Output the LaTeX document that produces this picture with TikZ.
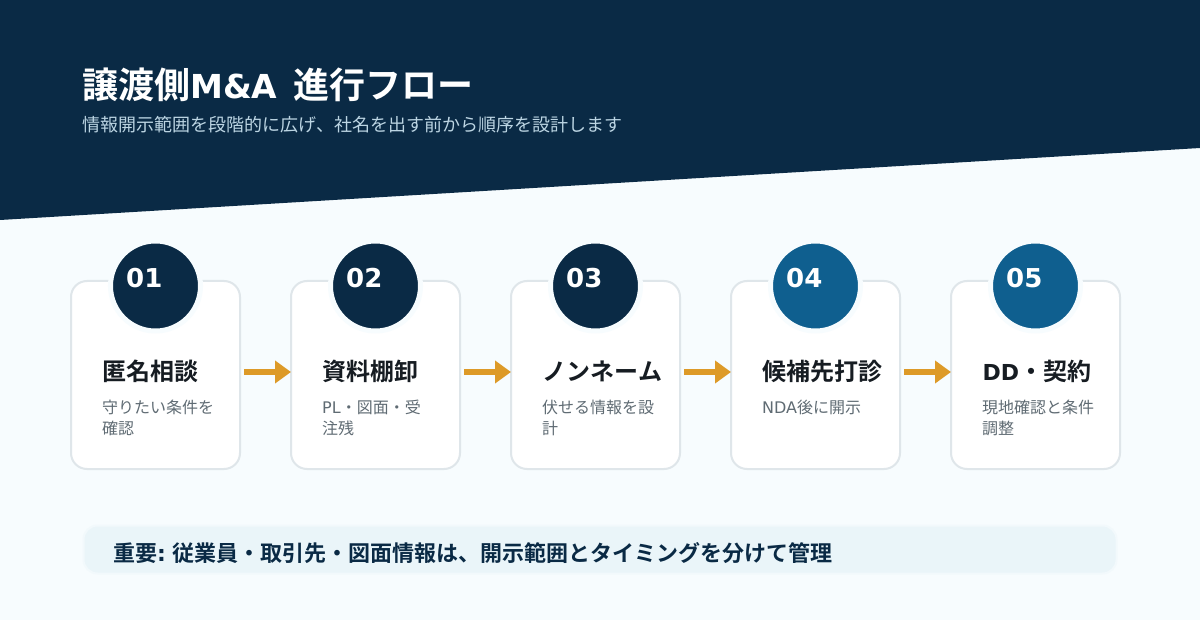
\documentclass[tikz,border=0pt]{standalone}
\usepackage{fontspec}
\usepackage{xcolor}
\setmainfont{DejaVu Sans}
\newfontfamily\cjk[Kerning=Off]{Noto Sans CJK JP}
\newfontfamily\cjkb[Kerning=Off]{Noto Sans CJK JP Bold}
\newfontfamily\latn{DejaVu Sans}
\usetikzlibrary{arrows.meta}
\definecolor{navy}{HTML}{0A2A45}
\definecolor{teal}{HTML}{0F5F8F}
\definecolor{pagebg}{HTML}{F7FCFE}
\definecolor{cardline}{HTML}{DFE6EA}
\definecolor{amber}{HTML}{DD9A28}
\definecolor{subtext}{HTML}{BCD5E3}
\definecolor{desctext}{HTML}{5F6B73}
\definecolor{headtext}{HTML}{161C22}
\definecolor{notebg}{HTML}{EAF5F9}
\tikzset{
  card/.style={draw=cardline, line width=2pt, fill=white, rounded corners=16pt,
    minimum width=169pt, minimum height=188pt, inner sep=0pt},
  badge/.style={circle, draw=pagebg, line width=5pt, minimum size=90pt, inner sep=0pt},
  badgenum/.style={anchor=base west, inner sep=0pt, text=white, font=\fontsize{26}{26}\selectfont\bfseries},
  cardhead/.style={anchor=base west, inner sep=0pt, text=headtext, font=\fontsize{24}{24}\selectfont\cjkb},
  carddesc/.style={anchor=north west, inner sep=0pt, align=left, text=desctext, font=\fontsize{16}{21}\selectfont\cjk},
  flowarrow/.style={draw=amber, line width=6pt, -{Triangle[length=16pt,width=22pt]}}
}
\begin{document}
\begin{tikzpicture}[x=1pt,y=-1pt]
  \useasboundingbox (0,0) rectangle (1200,620);
  \fill[pagebg] (0,0) rectangle (1200,620);
  \fill[navy] (0,0) -- (1200,0) -- (1200,148) -- (0,220) -- cycle;
  \node (title) [anchor=base west, inner sep=0pt, text=white, font=\fontsize{36}{36}\selectfont\cjkb]
    at (82,98.5) {譲渡側{\latn\bfseries\fontsize{33}{36}\selectfont M\&A} \hspace{7.5pt}進行フロー};
  \node (subtitle) [anchor=base west, inner sep=0pt, text=subtext, font=\fontsize{18}{20}\selectfont\cjk]
    at (82,131.5) {情報開示範囲を段階的に広げ、社名を出す前から順序を設計します};
  % cards
  \foreach \i/\x/\col/\num/\head/\desc in {
    1/71/navy/01/{匿名相談}/{守りたい条件を\\確認},
    2/291/navy/02/{資料棚卸}/{{\latn PL}・図面・受\\注残},
    3/511/navy/03/{ノンネーム}/{伏せる情報を設\\計},
    4/731/teal/04/{候補先打診}/{{\latn NDA}後に開示},
    5/951/teal/05/{{\latn\bfseries\fontsize{22}{24}\selectfont DD}・契約}/{現地確認と条件\\調整}} {
    \node (card\i) [card] at (\x+84.5,375) {};
    \node (badge\i) [badge, fill=\col] at (\x+84.5,286) {};
    \node (num\i) [badgenum] at (\x+55,287.5) {\num};
    \node (head\i) [cardhead] at (\x+31.5,380.5) {\head};
    \node (desc\i) [carddesc] at (\x+31,400) {\desc};
  }
  % arrows
  \foreach \i/\j in {1/2,2/3,3/4,4/5} {
    \coordinate (from\i) at ([xshift=3pt,yshift=3pt]card\i.east);
    \coordinate (to\i) at ([xshift=1pt,yshift=3pt]card\j.west);
    \draw[flowarrow] (from\i) -- (to\i);
  }
  % note
  \node (note) [fill=notebg, draw=notebg!40!pagebg, line width=2pt, rounded corners=14pt, minimum width=1033pt, minimum height=48pt, inner sep=0pt]
    at (600,549.5) {};
  \node (notetext) [anchor=base west, inner sep=0pt, text=navy, font=\fontsize{22}{22}\selectfont\cjkb]
    at (113,561) {重要{\latn\bfseries :} 従業員・取引先・図面情報は、開示範囲とタイミングを分けて管理};
\end{tikzpicture}
\end{document}
